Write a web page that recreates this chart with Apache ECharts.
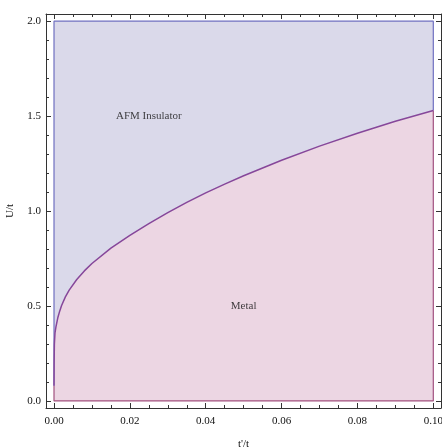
<!DOCTYPE html>
<html>
<head>
<meta charset="utf-8">
<script src="https://cdn.jsdelivr.net/npm/echarts@6/dist/echarts.min.js"></script>
<style>
  html, body { margin: 0; padding: 0; background: #fff; }
  #chart { width: 442px; height: 447px; }
</style>
</head>
<body>
<div id="chart"></div>
<script>
// Phase boundary U_c/t as a function of t'/t
const tPrime = [0, 0.00003, 0.0001, 0.00026, 0.0005, 0.001, 0.0015, 0.002, 0.003, 0.004,
  0.006, 0.008, 0.01, 0.015, 0.02, 0.025, 0.03, 0.035, 0.04, 0.045,
  0.05, 0.06, 0.07, 0.08, 0.09, 0.1];
const uCrit = [0.08, 0.2, 0.3, 0.358, 0.389, 0.438, 0.473, 0.503, 0.548, 0.584,
  0.64, 0.685, 0.724, 0.805, 0.872, 0.934, 0.992, 1.046, 1.096, 1.142,
  1.186, 1.268, 1.342, 1.41, 1.473, 1.53];

// Plot range
const xRange = [0, 0.1];
const uRange = [0, 2.0];

// Tick values
const xMajor = [0, 0.02, 0.04, 0.06, 0.08, 0.1];
const xMinor = [0.005, 0.01, 0.015, 0.025, 0.03, 0.035, 0.045, 0.05, 0.055,
  0.065, 0.07, 0.075, 0.085, 0.09, 0.095];
const yMajor = [0, 0.5, 1.0, 1.5, 2.0];
const yMinor = [0.1, 0.2, 0.3, 0.4, 0.6, 0.7, 0.8, 0.9, 1.1, 1.2, 1.3, 1.4,
  1.6, 1.7, 1.8, 1.9];

// Region labels
const regionNames = ['AFM Insulator', 'Metal'];
const regionPos = [[0.025, 1.5], [0.05, 0.5]];

const curve = tPrime.map((x, i) => [x, uCrit[i]]);
const uEnd = uCrit[uCrit.length - 1];
const uStart = uCrit[0];

const font = 'Liberation Serif, Times New Roman, serif';
const axisColor = '#333';
const textColor = '#111';
const blueFill = '#dad9ea';
const pinkFill = '#ecd6e3';
const blueEdge = '#6f6fc0';
const pinkEdge = '#a2517f';
const curveColor = '#86479a';

const X_MIN = -0.00211, X_MAX = 0.10203;
const Y_MIN = -0.037, Y_MAX = 2.038;

function xAx(pos, ticks, len, labels, extra) {
  return Object.assign({
    type: 'value', position: pos, min: X_MIN, max: X_MAX,
    axisLine: { show: labels, onZero: false, lineStyle: { color: axisColor, width: 1 } },
    axisTick: { show: true, inside: true, length: len, customValues: ticks,
      lineStyle: { color: axisColor, width: 1 } },
    axisLabel: labels ? { show: true, customValues: ticks, margin: 8,
      formatter: v => v.toFixed(2), fontFamily: font, fontSize: 11, color: textColor }
      : { show: false },
    splitLine: { show: false }
  }, extra || {});
}
function yAx(pos, ticks, len, labels, extra) {
  return Object.assign({
    type: 'value', position: pos, min: Y_MIN, max: Y_MAX,
    axisLine: { show: labels, onZero: false, lineStyle: { color: axisColor, width: 1 } },
    axisTick: { show: true, inside: true, length: len, customValues: ticks,
      lineStyle: { color: axisColor, width: 1 } },
    axisLabel: labels ? { show: true, customValues: ticks, margin: 5,
      formatter: v => v.toFixed(1), fontFamily: font, fontSize: 11, color: textColor }
      : { show: false },
    splitLine: { show: false }
  }, extra || {});
}

const option = {
  animation: false,
  backgroundColor: '#fff',
  grid: { left: 46, right: 1, top: 14, bottom: 39, containLabel: false, outerBoundsMode: 'none' },
  xAxis: [
    xAx('bottom', xMajor, 5, true, {
      name: "t'/t", nameLocation: 'middle', nameGap: 31,
      nameTextStyle: { fontFamily: font, fontSize: 11, color: textColor }
    }),
    xAx('bottom', xMinor, 3, false),
    xAx('top', xMajor, 5, true, { axisLabel: { show: false } }),
    xAx('top', xMinor, 3, false)
  ],
  yAxis: [
    yAx('left', yMajor, 5, true, {
      name: 'U/t', nameLocation: 'middle', nameGap: 30, nameRotate: 90,
      nameTextStyle: { fontFamily: font, fontSize: 11, color: textColor }
    }),
    yAx('left', yMinor, 3, false),
    yAx('right', yMajor, 5, true, { axisLabel: { show: false } }),
    yAx('right', yMinor, 3, false)
  ],
  series: [
    // AFM insulator region: whole box, later covered below the boundary
    {
      type: 'line', z: 1, symbol: 'none', silent: true,
      data: [[xRange[0], uRange[1]], [xRange[1], uRange[1]]],
      lineStyle: { width: 0 },
      areaStyle: { color: blueFill, opacity: 1, origin: uRange[0] }
    },
    // Metal region: under the boundary curve
    {
      type: 'line', z: 2, symbol: 'none', silent: true,
      data: curve,
      lineStyle: { width: 0 },
      areaStyle: { color: pinkFill, opacity: 1, origin: uRange[0] }
    },
    // Edges of the insulator region
    {
      type: 'line', z: 3, symbol: 'none', silent: true,
      data: [[xRange[0], uStart], [xRange[0], uRange[1]], [xRange[1], uRange[1]], [xRange[1], uEnd]],
      lineStyle: { color: blueEdge, width: 1.2 }
    },
    // Edges of the metal region
    {
      type: 'line', z: 3, symbol: 'none', silent: true,
      data: [[xRange[0], uStart], [xRange[0], uRange[0]], [xRange[1], uRange[0]], [xRange[1], uEnd]],
      lineStyle: { color: pinkEdge, width: 1.2 }
    },
    // Phase boundary
    {
      type: 'line', z: 4, symbol: 'none', silent: true,
      data: curve,
      lineStyle: { color: curveColor, width: 1.5 }
    },
    // Region labels
    {
      type: 'scatter', z: 5, symbolSize: 0, silent: true,
      data: regionPos.map((p, i) => ({ value: p, name: regionNames[i] })),
      label: {
        show: true, position: 'inside', formatter: p => p.name,
        fontFamily: font, fontSize: 11, color: textColor
      }
    }
  ]
};

const chart = echarts.init(document.getElementById('chart'), null, { renderer: 'canvas' });
chart.setOption(option);
</script>
</body>
</html>
